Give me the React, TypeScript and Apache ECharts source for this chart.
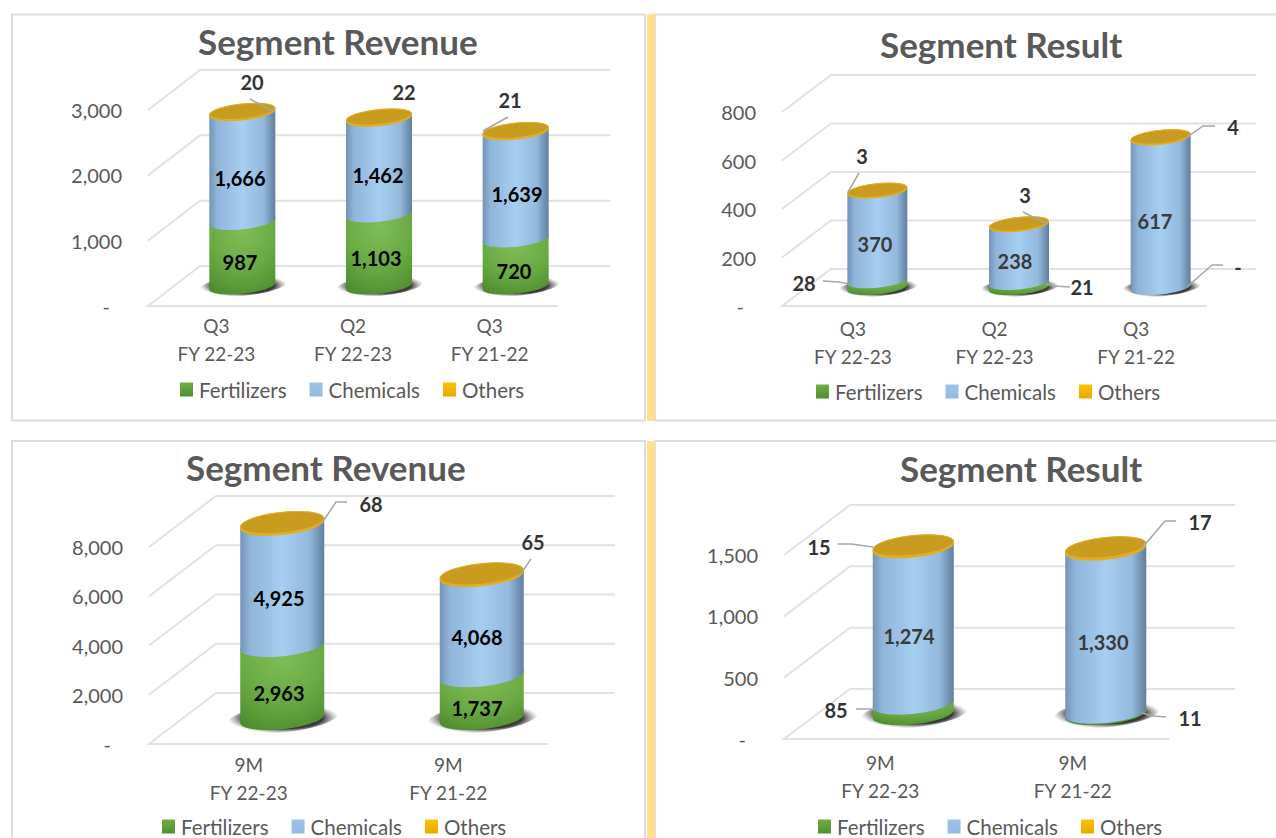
import React, { useEffect, useRef } from "react";
import * as echarts from "echarts";

// ---- data ----
const quarterCategories = ["Q3\nFY 22-23", "Q2\nFY 22-23", "Q3\nFY 21-22"];
const nineMonthCategories = ["9M\nFY 22-23", "9M\nFY 21-22"];

const revenueQFertilizers = [987, 1103, 720];
const revenueQChemicals = [1666, 1462, 1639];
const revenueQOthers = [20, 22, 21];

const resultQFertilizers = [28, 21, 0];
const resultQChemicals = [370, 238, 617];
const resultQOthers = [3, 3, 4];

const revenue9MFertilizers = [2963, 1737];
const revenue9MChemicals = [4925, 4068];
const revenue9MOthers = [68, 65];

const result9MFertilizers = [85, 11];
const result9MChemicals = [1274, 1330];
const result9MOthers = [15, 17];

const seriesNames = ["Fertilizers", "Chemicals", "Others"];

// ---- layout ----
type Pt = [number, number];
const FONT = "Lato";
const panels = [
  {
    title: "Segment Revenue", titlePos: [198, 23] as Pt,
    cats: quarterCategories, values: [revenueQFertilizers, revenueQChemicals, revenueQOthers],
    left: 148, width: 410, top: 110, height: 196, max: 3000, interval: 1000, catMargin: 6,
    dx: 52, dy: -40, rx: 33, ry: 7.8, legend: [180, 379] as Pt, inner: "#000000", outer: "#333333",
    labels: [
      [[240, 262], [376, 258], [514, 271]],
      [[240, 178], [378, 175], [517, 194]],
      [[252, 82], [404, 92], [510, 100]],
    ] as Pt[][],
    leaders: [
      [[250, 99], [274, 112]],
      [[508, 117], [483, 131]],
    ] as Pt[][],
  },
  {
    title: "Segment Result", titlePos: [880, 26] as Pt,
    cats: quarterCategories, values: [resultQFertilizers, resultQChemicals, resultQOthers],
    left: 782, width: 425, top: 112, height: 194, max: 800, interval: 200, catMargin: 9,
    dx: 49, dy: -37, rx: 30, ry: 7, legend: [816, 381] as Pt, inner: "#3a3a3a", outer: "#333333",
    labels: [
      [[804, 283], [1082, 287], [1238, 267]],
      [[875, 244], [1015, 261], [1155, 221]],
      [[862, 156], [1025, 195], [1233, 127]],
    ] as Pt[][],
    leaders: [
      [[859, 173], [848, 192]],
      [[1023, 212], [1047, 224]],
      [[1215, 126], [1203, 126], [1186, 138]],
      [[823, 281], [839, 282], [849, 284]],
      [[1070, 287], [1054, 286], [1046, 284]],
      [[1223, 265], [1212, 265], [1187, 287]],
    ] as Pt[][],
  },
  {
    title: "Segment Revenue", titlePos: [186, 449] as Pt,
    cats: nineMonthCategories, values: [revenue9MFertilizers, revenue9MChemicals, revenue9MOthers],
    left: 149, width: 399, top: 547, height: 197, max: 8000, interval: 2000, catMargin: 7,
    dx: 67, dy: -51, rx: 42, ry: 10.7, legend: [162, 816] as Pt, inner: "#000000", outer: "#333333",
    labels: [
      [[279, 693], [477, 708]],
      [[279, 598], [477, 637]],
      [[371, 504], [533, 542]],
    ] as Pt[][],
    leaders: [
      [[347, 502], [336, 502], [322, 523]],
      [[531, 559], [520, 575]],
    ] as Pt[][],
  },
  {
    title: "Segment Result", titlePos: [900, 450] as Pt,
    cats: nineMonthCategories, values: [result9MFertilizers, result9MChemicals, result9MOthers],
    left: 784, width: 385, top: 555, height: 184, max: 1500, interval: 500, catMargin: 10,
    dx: 66, dy: -50, rx: 40.5, ry: 10.3, legend: [818, 816] as Pt, inner: "#3a3a3a", outer: "#333333",
    labels: [
      [[836, 710], [1190, 718]],
      [[909, 636], [1103, 642]],
      [[819, 547], [1200, 522]],
    ] as Pt[][],
    leaders: [
      [[838, 544], [851, 544], [873, 547]],
      [[1176, 521], [1165, 521], [1142, 548]],
      [[856, 709], [875, 709]],
      [[1166, 717], [1153, 716], [1142, 713]],
    ] as Pt[][],
  },
];

const SHEAR = 0.1;

function arc(cx: number, cy: number, rx: number, ry: number, from: number, to: number, n = 28): Pt[] {
  const pts: Pt[] = [];
  for (let i = 0; i <= n; i++) {
    const t = from + ((to - from) * i) / n;
    pts.push([cx + rx * Math.cos(t), cy + ry * Math.sin(t) - SHEAR * rx * Math.cos(t)]);
  }
  return pts;
}

const hGrad = (stops: [number, string][]) =>
  new echarts.graphic.LinearGradient(0, 0, 1, 0, stops.map(([offset, color]) => ({ offset, color })));
const vGrad = (a: string, b: string) =>
  new echarts.graphic.LinearGradient(0, 0, 0, 1, [{ offset: 0, color: a }, { offset: 1, color: b }]);

const greenFill = () =>
  new echarts.graphic.RadialGradient(0.5, 0.2, 0.95, [
    { offset: 0, color: "#80BE58" },
    { offset: 0.55, color: "#69A942" },
    { offset: 1, color: "#46862A" },
  ]);
const blueFill = () =>
  hGrad([[0, "#7395B6"], [0.12, "#8FB5D9"], [0.5, "#A6CEF1"], [0.82, "#93B9DC"], [1, "#5F7F9E"]]);
const yellowFill = () => hGrad([[0, "#E2AC1E"], [1, "#E2AC1E"]]);

const legendFills = () => [vGrad("#70AD47", "#4F8F2E"), vGrad("#9DC3E6", "#93BAE0"), vGrad("#FFC000", "#E9A900")];

function buildOption() {
  const grid: any[] = [], xAxis: any[] = [], yAxis: any[] = [], series: any[] = [], title: any[] = [], legend: any[] = [];

  panels.forEach((p, pi) => {
    grid.push({ left: p.left, top: p.top, width: p.width, height: p.height, containLabel: false });
    xAxis.push({
      type: "category", gridIndex: pi, data: p.cats,
      axisLine: { show: false }, axisTick: { show: false },
      axisLabel: { color: "#595959", fontFamily: FONT, fontSize: 19, lineHeight: 27.5, margin: p.catMargin, interval: 0 },
    });
    yAxis.push({
      type: "value", gridIndex: pi, min: 0, max: p.max, interval: p.interval,
      splitLine: { show: false }, axisLine: { show: false }, axisTick: { show: false },
      axisLabel: {
        color: "#595959", fontFamily: FONT, fontSize: 20, margin: 26,
        formatter: (v: number) => (v === 0 ? "{d|-}" : v.toLocaleString("en-US")),
        rich: { d: { color: "#595959", fontFamily: FONT, fontSize: 20, padding: [0, 12, 0, 0] } },
      },
    });
    title.push({
      text: p.title, left: p.titlePos[0], top: p.titlePos[1], padding: 0,
      textStyle: { color: "#595959", fontFamily: FONT, fontWeight: "bold", fontSize: 35 },
    });
    const fills = legendFills();
    legend.push({
      left: p.legend[0], top: p.legend[1], padding: 0, itemWidth: 13, itemHeight: 14, itemGap: 23, itemStyle: {},
      selectedMode: false, icon: "rect",
      textStyle: { color: "#595959", fontFamily: FONT, fontSize: 20.5, padding: [0, 0, 0, 1] },
      data: seriesNames.map((name, i) => ({ name, itemStyle: { color: fills[i] } })),
    });

    // back wall & floor gridlines, one per axis tick
    const ticks: number[][] = [];
    for (let v = 0; v <= p.max; v += p.interval) ticks.push([0, v]);
    series.push({
      type: "custom", xAxisIndex: pi, yAxisIndex: pi, silent: true, z: 2, encode: { x: 0, y: 1 }, data: ticks,
      renderItem: (_: any, api: any) => {
        const y = api.coord([0, api.value(1)])[1];
        const l = p.left, r = p.left + p.width;
        const pts: Pt[] = [[l, y], [l + p.dx, y + p.dy], [r + p.dx, y + p.dy]];
        if (api.value(1) === 0) pts.unshift([r, y]);
        return { type: "polyline", shape: { points: pts }, style: { stroke: "#E2E2E2", lineWidth: 2, fill: "none" } };
      },
    });

    // stacked cylinders
    p.values.forEach((vals, si) => {
      const data = vals.map((v, i) => {
        let base = 0;
        for (let k = 0; k < si; k++) base += p.values[k][i];
        return [i, v, base];
      });
      series.push({
        type: "custom", name: seriesNames[si], xAxisIndex: pi, yAxisIndex: pi, silent: true, z: 3,
        encode: { x: 0, y: 1 }, data,
        itemStyle: { color: ["#70AD47", "#9DC3E6", "#FFC000"][si] },
        renderItem: (_: any, api: any) => {
          const i = api.value(0), v = api.value(1), base = api.value(2);
          const p0 = api.coord([i, base]);
          const p1 = api.coord([i, base + v]);
          const cx = p0[0] + p.dx / 2;
          const y0 = p0[1] + p.dy / 2;
          const y1 = p1[1] + p.dy / 2;
          const children: any[] = [];
          if (si === 0) {
            // base shadow
            children.push({
              type: "polygon",
              shape: { points: arc(cx + 1, y0 - 0.5, p.rx * 1.34, p.ry * 1.35, 0, Math.PI * 2, 48) },
              style: {
                fill: new echarts.graphic.RadialGradient(0.5, 0.5, 0.5, [
                  { offset: 0, color: "#2E2E2E" },
                  { offset: 0.7, color: "#3A3A3A" },
                  { offset: 1, color: "rgba(130,130,130,0)" },
                ]),
              },
            });
          }
          if (v > 0) {
            const pts = [
              ...arc(cx, y0, p.rx, p.ry, Math.PI, 0),
              ...arc(cx, y1, p.rx, p.ry, 0, -Math.PI),
            ];
            children.push({
              type: "polygon", shape: { points: pts },
              style: { fill: si === 0 ? greenFill() : si === 1 ? blueFill() : yellowFill() },
            });
          }
          if (si === 2) {
            children.push({
              type: "polygon", shape: { points: arc(cx, y1, p.rx - 0.4, p.ry - 0.4, 0, Math.PI * 2, 56) },
              style: { fill: "#C99C20", stroke: "#E3B02A", lineWidth: 1 },
            });
          }
          return { type: "group", children };
        },
      });
    });

    // leader lines & value labels
    series.push({
      type: "custom", xAxisIndex: pi, yAxisIndex: pi, silent: true, z: 5, encode: { x: 0, y: 1 },
      data: [[0, 0]],
      renderItem: () => {
        const children: any[] = p.leaders.map((pts) => ({
          type: "polyline", shape: { points: pts },
          style: { stroke: "#A6A6A6", lineWidth: 1.5, fill: "none" },
        }));
        p.values.forEach((vals, si) =>
          vals.forEach((v, i) => {
            const [x, y] = p.labels[si][i];
            children.push({
              type: "text", x, y,
              style: {
                text: v === 0 ? "-" : v.toLocaleString("en-US"),
                fill: si === 2 || v < 100 ? p.outer : p.inner,
                font: `bold 20px ${FONT}`,
                align: "center", verticalAlign: "middle",
                textAlign: "center", textVerticalAlign: "middle",
              },
            });
          })
        );
        return { type: "group", children };
      },
    });
  });

  const frame = { stroke: "#DDDDDD", lineWidth: 2, fill: "#FFFFFF" };
  const stripe = { fill: "#FFE08E" };
  const graphic = [
    { type: "rect", z: -10, shape: { x: 12, y: 14.5, width: 633, height: 406 }, style: frame },
    { type: "rect", z: -10, shape: { x: 655, y: 14.5, width: 640, height: 406 }, style: frame },
    { type: "rect", z: -10, shape: { x: 12, y: 441, width: 633, height: 420 }, style: frame },
    { type: "rect", z: -10, shape: { x: 655, y: 441, width: 640, height: 420 }, style: frame },
    { type: "rect", z: -9, shape: { x: 647, y: 14, width: 8, height: 407 }, style: stripe },
    { type: "rect", z: -9, shape: { x: 647, y: 441, width: 8, height: 397 }, style: stripe },
  ];

  return { animation: false, backgroundColor: "#FFFFFF", tooltip: { show: false }, grid, xAxis, yAxis, series, title, legend, graphic };
}

export default function App() {
  const ref = useRef<HTMLDivElement>(null);
  useEffect(() => {
    document.body.style.margin = "0";
    if (!ref.current) return;
    const chart = echarts.init(ref.current, undefined, { renderer: "svg" });
    chart.setOption(buildOption() as any);
    return () => chart.dispose();
  }, []);
  return <div ref={ref} style={{ width: 1276, height: 838 }} />;
}
